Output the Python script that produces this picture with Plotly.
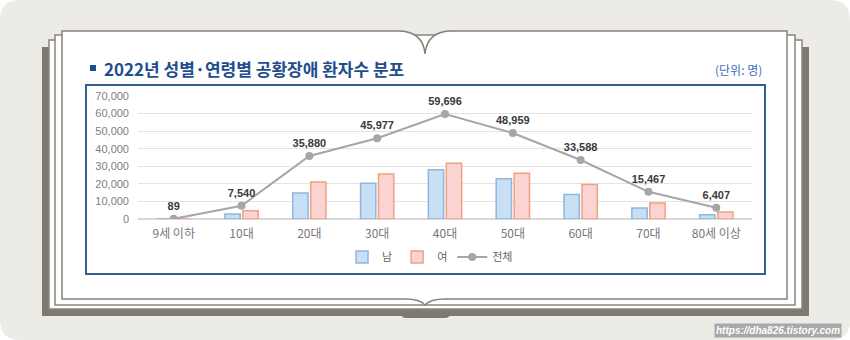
import plotly.graph_objects as go

categories = ["9세 이하", "10대", "20대", "30대", "40대", "50대", "60대", "70대", "80세 이상"]
male = [40, 2900, 14800, 20400, 28000, 22900, 14000, 6300, 2400]
female = [49, 4640, 21080, 25577, 31696, 26059, 19588, 9167, 4007]
total = [89, 7540, 35880, 45977, 59696, 48959, 33588, 15467, 6407]
y_ticks = [0, 10000, 20000, 30000, 40000, 50000, 60000, 70000]

W, H = 850, 340
L, R, T, B = 138, 752, 96, 219  # plot area in pixels

def px(x):
    return (x - L) / (R - L)

def py(y):
    return (B - y) / (B - T)

def P(x, y):
    return f"{px(x):.5f},{py(y):.5f}"

FONT = "Liberation Sans, Noto Sans CJK KR, sans-serif"
KFONT = "Noto Sans CJK KR, sans-serif"

fig = go.Figure()
fig.add_trace(go.Bar(
    x=categories, y=male, name="남",
    marker=dict(color="#C9DFF4", line=dict(color="#8DB6E0", width=1.5)),
))
fig.add_trace(go.Bar(
    x=categories, y=female, name="여",
    marker=dict(color="#FCD3D3", line=dict(color="#F0A27E", width=1.5)),
))
fig.add_trace(go.Scatter(
    x=categories, y=total, name="전체", mode="lines+markers+text",
    line=dict(color="#A6A6A6", width=2),
    marker=dict(color="#A6A6A6", size=8),
    text=[f"<b>{v:,}</b>" for v in total], textposition="top center",
    textfont=dict(family=FONT, size=11, color="#3A3A3A"),
))

shapes = []
# outer rounded background
r = 20
shapes.append(dict(type="path", xref="paper", yref="paper", layer="below",
    path=(f"M {P(r,0)} L {P(W-r,0)} Q {P(W,0)} {P(W,r)} L {P(W,H-r)} Q {P(W,H)} {P(W-r,H)} "
          f"L {P(r,H)} Q {P(0,H)} {P(0,H-r)} L {P(0,r)} Q {P(0,0)} {P(r,0)} Z"),
    fillcolor="#ECEBE6", line=dict(width=0)))
# back cover
shapes.append(dict(type="rect", xref="paper", yref="paper", layer="below",
    x0=px(42), x1=px(809), y0=py(47), y1=py(316),
    fillcolor="#7F7A71", line=dict(width=0)))
# bottom spine tab
shapes.append(dict(type="path", xref="paper", yref="paper", layer="below",
    path=(f"M {P(406,304)} L {P(445,304)} Q {P(450,304)} {P(450,309)} L {P(450,313)} Q {P(450,318)} {P(445,318)} "
          f"L {P(406,318)} Q {P(401,318)} {P(401,313)} L {P(401,309)} Q {P(401,304)} {P(406,304)} Z"),
    fillcolor="#7F7A71", line=dict(width=0)))
# back pages
for (x0, y0, x1, y1) in [(49, 40, 802, 309), (55, 35, 795, 305)]:
    shapes.append(dict(type="rect", xref="paper", yref="paper", layer="below",
        x0=px(x0), x1=px(x1), y0=py(y0), y1=py(y1),
        fillcolor="white", line=dict(color="#8A857C", width=1.5)))
# front page with notch
shapes.append(dict(type="path", xref="paper", yref="paper", layer="below",
    path=(f"M {P(62,299)} L {P(62,31)} L {P(398,31)} Q {P(423,31)} {P(425,54)} "
          f"Q {P(427,31)} {P(452,31)} L {P(787,31)} L {P(787,299)} L {P(445,299)} "
          f"Q {P(430,299)} {P(425,305)} Q {P(420,299)} {P(405,299)} Z"),
    fillcolor="white", line=dict(color="#86817A", width=1.5)))
# blue chart box
shapes.append(dict(type="rect", xref="paper", yref="paper", layer="below",
    x0=px(86), x1=px(765), y0=py(85), y1=py(274),
    fillcolor="white", line=dict(color="#34608F", width=2)))
# title square
shapes.append(dict(type="rect", xref="paper", yref="paper", layer="below",
    x0=px(90), x1=px(96), y0=py(65), y1=py(71),
    fillcolor="#1F4E8F", line=dict(width=0)))

annotations = [
    dict(text="<b>2022년 성별·연령별 공황장애 환자수 분포</b>", xref="paper", yref="paper",
         x=px(102), y=py(68), xanchor="left", yanchor="middle", showarrow=False,
         font=dict(family=KFONT, size=17, color="#1F4E8F")),
    dict(text="(단위: 명)", xref="paper", yref="paper",
         x=px(764), y=py(69), xanchor="right", yanchor="middle", showarrow=False,
         font=dict(family=KFONT, size=12, color="#3D6DB5")),
    dict(text="<b><i>https://dha826.tistory.com</i></b>", xref="paper", yref="paper",
         x=px(842), y=py(330), xanchor="right", yanchor="middle", showarrow=False,
         bgcolor="#A8A8A8", borderpad=1,
         font=dict(family=FONT, size=10, color="white")),
]

fig.update_layout(
    width=W, height=H,
    margin=dict(l=L, r=W - R, t=T, b=H - B, pad=0),
    paper_bgcolor="white", plot_bgcolor="rgba(0,0,0,0)",
    barmode="group", bargap=0.47, bargroupgap=0.15,
    font=dict(family=FONT, size=11, color="#777777"),
    shapes=shapes, annotations=annotations,
    showlegend=True,
    legend=dict(orientation="h", x=px(430), y=py(257), xanchor="center", yanchor="middle",
                bgcolor="rgba(0,0,0,0)", font=dict(family=KFONT, size=11, color="#666666"),
                itemwidth=30, traceorder="normal"),
    xaxis=dict(showgrid=False, showline=False, ticks="", ticklabelstandoff=6,
               tickfont=dict(family=KFONT, size=12, color="#777777"), fixedrange=True),
    yaxis=dict(range=[0, 70000], tickvals=y_ticks, tickformat=",", showgrid=True,
               gridcolor="#E3E3E3", gridwidth=1, zeroline=True, zerolinecolor="#D9D9D9",
               showline=False, ticks="", ticklabelstandoff=8,
               tickfont=dict(family=FONT, size=11, color="#808080"), fixedrange=True),
)

fig.write_html("out.html")
